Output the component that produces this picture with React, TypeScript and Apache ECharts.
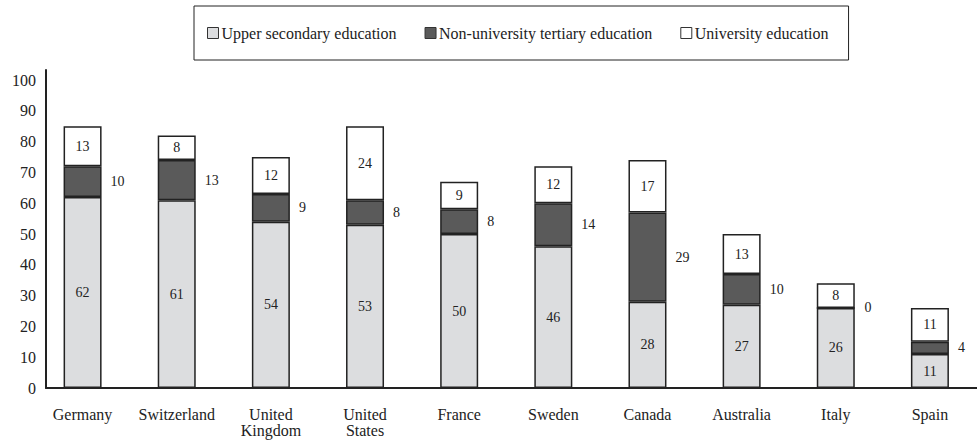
import React, { useEffect, useRef } from "react";
import * as echarts from "echarts";

const countries = [
  "Germany",
  "Switzerland",
  "United\nKingdom",
  "United\nStates",
  "France",
  "Sweden",
  "Canada",
  "Australia",
  "Italy",
  "Spain",
];
const upperSecondary = [62, 61, 54, 53, 50, 46, 28, 27, 26, 11];
const nonUniversityTertiary = [10, 13, 9, 8, 8, 14, 29, 10, 0, 4];
const university = [13, 8, 12, 24, 9, 12, 17, 13, 8, 11];
const seriesNames = [
  "Upper secondary education",
  "Non-university tertiary education",
  "University education",
];

const FONT = "Liberation Serif";
const INK = "#222222";

export default function App() {
  const ref = useRef<HTMLDivElement>(null);
  useEffect(() => {
    document.body.style.margin = "0";
    if (!ref.current) return;
    const chart = echarts.init(ref.current, undefined, { renderer: "svg" });
    const barStyle = (color: string) => ({
      color,
      borderColor: INK,
      borderWidth: 1.5,
    });
    const labelBase = {
      show: true,
      fontFamily: FONT,
      fontSize: 14,
      color: INK,
    };
    chart.setOption({
      animation: false,
      backgroundColor: "#ffffff",
      textStyle: { fontFamily: FONT },
      legend: {
        left: 194,
        top: 6,
        orient: "horizontal",
        padding: [19, 20, 19, 13],
        borderColor: INK,
        borderWidth: 1,
        itemWidth: 11,
        itemHeight: 11,
        itemGap: 28,
        icon: "rect",
        itemStyle: { borderWidth: 1, borderColor: "#333" },
        textStyle: { fontFamily: FONT, fontSize: 16, color: INK, padding: [0, 0, 0, -2] },
        data: seriesNames,
      },
      grid: [
        { left: 35.5, right: -7.5, top: 70, bottom: 52, containLabel: false },
        { left: 46, right: 0, top: 70, bottom: 52, containLabel: false },
      ],
      xAxis: [
        {
          type: "category",
          gridIndex: 0,
          data: countries,
          axisLine: { show: false },
          axisTick: { show: false },
          axisLabel: {
            fontFamily: FONT,
            fontSize: 16,
            color: INK,
            margin: 18,
            lineHeight: 16,
            interval: 0,
          },
        },
        {
          type: "value",
          gridIndex: 1,
          min: 0,
          max: 1,
          axisLine: { show: true, lineStyle: { color: INK, width: 2 } },
          axisTick: { show: false },
          axisLabel: { show: false },
          splitLine: { show: false },
        },
      ],
      yAxis: [
        {
          type: "value",
          gridIndex: 0,
          min: 0,
          max: 103.25,
          show: false,
          splitLine: { show: false },
        },
        {
          type: "value",
          gridIndex: 1,
          min: 0,
          max: 103.25,
          interval: 10,
          axisLine: { show: true, lineStyle: { color: INK, width: 2 } },
          axisTick: { show: false },
          splitLine: { show: false },
          axisLabel: {
            fontFamily: FONT,
            fontSize: 16,
            color: INK,
            margin: 10,
            showMaxLabel: false,
            formatter: (v: number) => (v % 10 === 0 ? String(v) : ""),
          },
        },
      ],
      series: [
        {
          name: seriesNames[0],
          type: "bar",
          stack: "total",
          xAxisIndex: 0,
          yAxisIndex: 0,
          barWidth: 38,
          data: upperSecondary,
          itemStyle: barStyle("#dcdddf"),
          label: { ...labelBase, position: "inside" },
        },
        {
          name: seriesNames[1],
          type: "bar",
          stack: "total",
          xAxisIndex: 0,
          yAxisIndex: 0,
          barWidth: 38,
          data: nonUniversityTertiary,
          itemStyle: barStyle("#5a5a5a"),
          label: { ...labelBase, position: "right", distance: 9 },
        },
        {
          name: seriesNames[2],
          type: "bar",
          stack: "total",
          xAxisIndex: 0,
          yAxisIndex: 0,
          barWidth: 38,
          data: university,
          itemStyle: barStyle("#ffffff"),
          label: { ...labelBase, position: "inside" },
        },
      ],
    });
    return () => chart.dispose();
  }, []);
  return <div ref={ref} style={{ width: 977, height: 440 }} />;
}
